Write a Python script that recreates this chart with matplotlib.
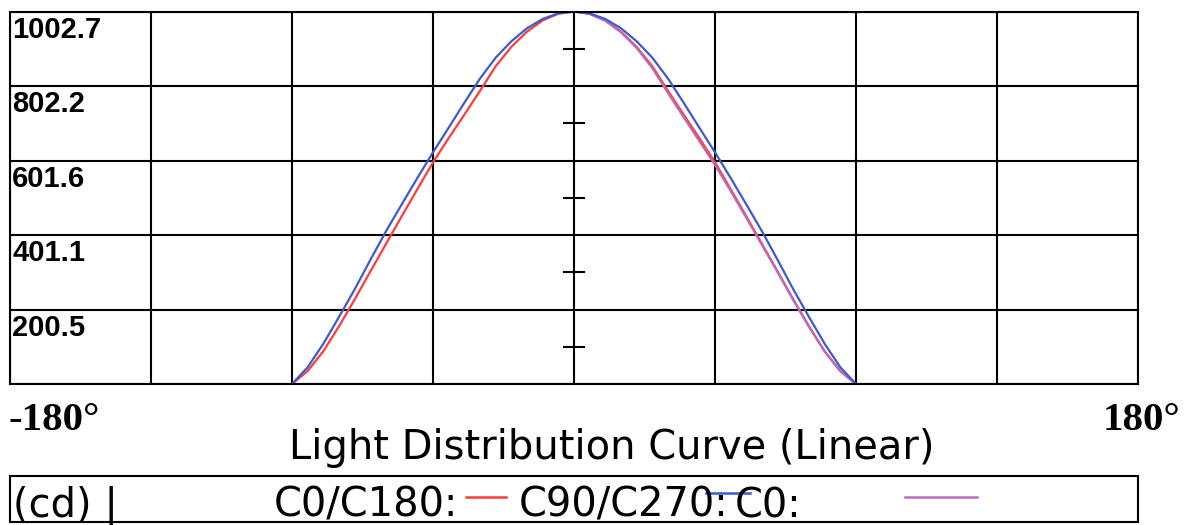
import numpy as np
import matplotlib
matplotlib.use("Agg")
import matplotlib.pyplot as plt
from matplotlib.patches import Rectangle
from matplotlib.lines import Line2D

W, H = 1186, 525

# gamma angles (deg) for one half of the curve, 0 = nadir
angles = [0, 5, 10, 15, 20, 25, 30, 35, 40, 45, 50, 55, 60, 65, 70, 75, 80, 85, 90]
# intensities in cd
c0_c180 = [1002.7, 996.7, 978.6, 948.6, 907.4, 855.3, 789.1, 725.0, 661.8, 596.6,
           524.4, 451.2, 377.0, 302.8, 227.6, 155.4, 88.2, 35.1, 0.0]
c90_c270 = [1002.7, 997.7, 982.6, 957.6, 922.5, 878.4, 822.2, 757.0, 689.9, 623.7,
            554.5, 483.3, 411.1, 333.9, 254.7, 180.5, 108.3, 45.1, 0.0]
c0 = [1002.7, 996.2, 977.6, 946.6, 904.4, 850.3, 783.1, 718.0, 653.8, 589.6,
      519.4, 447.2, 374.0, 300.8, 225.6, 153.4, 87.2, 34.1, 0.0]

y_ticks = [200.5, 401.1, 601.6, 802.2, 1002.7]
x_ticks = [-180, -135, -90, -45, 0, 45, 90, 135, 180]
y_max = 1002.7

red, blue, purple = '#ff3b3b', '#3a5ccc', '#b86cbc'


def fx(px):
    return px / W


def fy(py):
    return 1 - py / H


fig = plt.figure(figsize=(W / 100, H / 100), dpi=100)
ax = fig.add_axes([fx(10), fy(384), fx(1138) - fx(10), fy(11.5) - fy(384)])

a = np.array(angles)
ax.plot(np.concatenate([-a[::-1], a[1:]]), c0_c180[::-1] + c0_c180[1:], color=red, lw=1.6)
ax.plot(a, c0, color=purple, lw=1.6)
ax.plot(np.concatenate([-a[::-1], a[1:]]), c90_c270[::-1] + c90_c270[1:], color=blue, lw=1.6)

ax.set_xlim(-180, 180)
ax.set_ylim(0, y_max)
ax.set_xticks(x_ticks)
ax.set_yticks([0] + y_ticks)
ax.grid(color='black', lw=1.5)
ax.set_axisbelow(True)
ax.tick_params(length=0, labelbottom=False, labelleft=False)
for s in ax.spines.values():
    s.set_linewidth(1.5)
    s.set_color('black')

# small marks on the centre line, half way between grid lines
step = y_ticks[0]
for v in y_ticks:
    ax.plot([-3.2, 3.2], [v - step / 2, v - step / 2], color='black', lw=1.5, zorder=1)

# value labels sit just under their grid line
for v in y_ticks:
    ax.annotate(f"{v:.1f}", (-180, v), xytext=(1.5, -3), textcoords='offset points',
                ha='left', va='top', fontsize=21, fontweight='bold',
                family='Liberation Sans')

fig.text(fx(8), fy(430), "-180°", fontsize=29.5, fontweight='bold',
         family='Liberation Serif', ha='left', va='baseline')
fig.text(fx(1180), fy(430), "180°", fontsize=29.5, fontweight='bold',
         family='Liberation Serif', ha='right', va='baseline')
fig.text(fx(612), fy(459), "Light Distribution Curve (Linear)", fontsize=28.8,
         family='DejaVu Sans', ha='center', va='baseline')

# legend strip
fig.patches.append(Rectangle((fx(10), fy(522)), fx(1138) - fx(10), fy(476) - fy(522),
                             transform=fig.transFigure, fill=False, ec='black', lw=1.5))
for txt, px in [("(cd) |", 13), ("C0/C180:", 274), ("C90/C270:", 519), ("C0:", 735)]:
    fig.text(fx(px), fy(517), txt, fontsize=28.8, family='DejaVu Sans',
             ha='left', va='baseline')
for col, x0, x1, py in [(red, 466, 506, 497), (blue, 706, 750, 493), (purple, 905, 977, 497)]:
    fig.add_artist(Line2D([fx(x0), fx(x1)], [fy(py), fy(py)], transform=fig.transFigure,
                          color=col, lw=1.8))

fig.savefig("out.png", dpi=100)
